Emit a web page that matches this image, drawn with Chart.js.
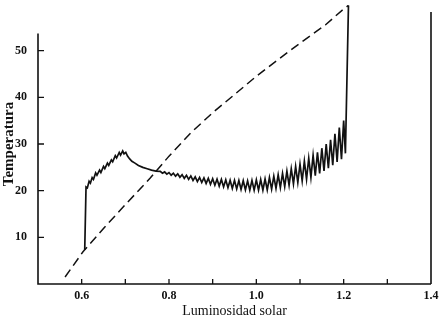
<!DOCTYPE html>
<html>
<head>
<meta charset="utf-8">
<script src="https://cdn.jsdelivr.net/npm/chart.js@4/dist/chart.umd.min.js"></script>
<style>
  html, body { margin: 0; padding: 0; background: #fff; }
  #wrap { width: 444px; height: 323px; }
</style>
</head>
<body>
<div id="wrap"><canvas id="c" width="444" height="323"></canvas></div>
<script>
// Temperature response (solid curve): luminosity and temperature
const tempLum = [
  0.607, 0.610, 0.613, 0.617, 0.620, 0.624, 0.627, 0.632, 0.635, 0.641,
  0.644, 0.650, 0.653, 0.659, 0.662, 0.668, 0.671, 0.677, 0.680, 0.686,
  0.689, 0.694, 0.697, 0.701, 0.705, 0.710, 0.715, 0.722, 0.730, 0.740,
  0.750, 0.760, 0.770,
  0.780, 0.785, 0.790, 0.795, 0.800, 0.805, 0.810, 0.815, 0.820, 0.825,
  0.830, 0.835, 0.840, 0.845, 0.850, 0.855, 0.860, 0.865, 0.870, 0.875,
  0.880, 0.885, 0.890, 0.895, 0.900, 0.905, 0.910, 0.915, 0.920, 0.925,
  0.930, 0.935, 0.940, 0.945, 0.950, 0.955, 0.960, 0.965, 0.970, 0.975,
  0.980, 0.985, 0.990, 0.995, 1.000, 1.005, 1.010, 1.015, 1.020, 1.025,
  1.030, 1.035, 1.040, 1.045, 1.050, 1.055, 1.060, 1.065, 1.070, 1.075,
  1.080, 1.085, 1.090, 1.095, 1.100, 1.105, 1.110, 1.115, 1.120, 1.125,
  1.130, 1.135, 1.140, 1.145, 1.150, 1.155, 1.160, 1.165, 1.170, 1.175,
  1.180, 1.185, 1.190, 1.195, 1.200, 1.204, 1.211
];
const tempVal = [
  7.3, 20.8, 20.6, 22.0, 21.6, 22.8, 22.4, 23.8, 23.3, 24.4,
  23.9, 25.2, 24.7, 25.9, 25.4, 26.6, 26.2, 27.5, 27.0, 28.2,
  27.6, 28.5, 27.9, 28.2, 27.4, 26.8, 26.3, 25.9, 25.4, 25.0,
  24.7, 24.4, 24.2,
  24.15, 23.74, 24.02, 23.53, 23.88, 23.32, 23.74, 23.11, 23.60, 22.88,
  23.44, 22.64, 23.28, 22.41, 23.16, 22.20, 22.95, 21.95, 22.85, 21.75,
  22.75, 21.55, 22.65, 21.35, 22.55, 21.16, 22.48, 20.98, 22.40, 20.81,
  22.33, 20.63, 22.25, 20.49, 22.22, 20.38, 22.18, 20.27, 22.14, 20.16,
  22.10, 20.10, 22.20, 20.10, 22.30, 20.10, 22.40, 20.10, 22.50, 20.17,
  22.81, 20.33, 23.10, 20.47, 23.41, 20.63, 23.70, 20.85, 24.20, 21.15,
  24.70, 21.45, 25.20, 21.75, 25.70, 22.09, 26.33, 22.46, 26.95, 22.84,
  27.58, 23.21, 28.20, 23.69, 29.10, 24.25, 30.00, 24.81, 30.90, 25.45,
  32.20, 26.15, 33.50, 26.75, 35.00, 28.0, 59.7
];

// Dashed curve
const refLum = [0.562, 0.603, 0.650, 0.700, 0.757, 0.800, 0.850, 0.900, 0.950,
                1.000, 1.050, 1.100, 1.158, 1.197, 1.211];
const refVal = [1.5, 6.9, 11.9, 17.0, 22.7, 27.4, 32.4, 36.7, 40.6,
                44.5, 48.1, 51.6, 55.5, 58.7, 59.7];

// Axis ticks and labels
const xLabeled = ['0.6', '0.8', '1.0', '1.2', '1.4'];
const xTickMarks = [0.6, 0.7, 0.8, 0.9, 1.0, 1.1, 1.2, 1.3];
const yLabeled = [10, 20, 30, 40, 50];

const toPoints = (xs, ys) => xs.map((x, i) => ({ x: x, y: ys[i] }));

const INK = '#111';
const serif = "'Liberation Serif', 'DejaVu Serif', serif";

// Frame: left axis, bottom axis, right edge line, inward ticks
const framePlugin = {
  id: 'frame',
  beforeDatasetsDraw(chart) {
    const { ctx, scales: { x, y } } = chart;
    const x0 = x.getPixelForValue(0.5);
    const x1 = x.getPixelForValue(1.4);
    const yb = y.getPixelForValue(0);
    ctx.save();
    ctx.strokeStyle = INK;
    ctx.lineWidth = 1.6;
    ctx.lineCap = 'butt';
    ctx.beginPath();
    ctx.moveTo(x0, y.getPixelForValue(53.7));
    ctx.lineTo(x0, yb);
    ctx.lineTo(x1, yb);
    ctx.moveTo(x1, yb);
    ctx.lineTo(x1, y.getPixelForValue(58.3));
    ctx.stroke();
    ctx.lineWidth = 1.3;
    ctx.beginPath();
    yLabeled.forEach(v => {
      const py = y.getPixelForValue(v);
      ctx.moveTo(x0, py);
      ctx.lineTo(x0 + 6, py);
    });
    xTickMarks.forEach(v => {
      const px = x.getPixelForValue(v);
      ctx.moveTo(px, yb);
      ctx.lineTo(px, yb - 5);
    });
    ctx.stroke();
    ctx.restore();
  }
};

new Chart(document.getElementById('c'), {
  type: 'scatter',
  data: {
    datasets: [
      {
        data: toPoints(tempLum, tempVal),
        showLine: true,
        borderColor: INK,
        borderWidth: 1.7,
        pointRadius: 0,
        tension: 0,
        borderJoinStyle: 'miter'
      },
      {
        data: toPoints(refLum, refVal),
        showLine: true,
        borderColor: INK,
        borderWidth: 1.5,
        borderDash: [9, 5],
        pointRadius: 0,
        tension: 0
      }
    ]
  },
  options: {
    responsive: false,
    animation: false,
    events: [],
    layout: { padding: { left: 0, right: 13, top: 4, bottom: 0 } },
    plugins: { legend: { display: false }, tooltip: { enabled: false } },
    scales: {
      x: {
        type: 'linear',
        min: 0.5,
        max: 1.4,
        border: { display: false },
        grid: { display: false },
        ticks: {
          stepSize: 0.1,
          autoSkip: false,
          maxRotation: 0,
          padding: -3,
          color: INK,
          font: { family: serif, size: 12, weight: 'bold' },
          callback: v => {
            const s = Number(v).toFixed(1);
            return xLabeled.includes(s) ? s : '';
          }
        },
        title: {
          display: true,
          text: 'Luminosidad solar',
          color: INK,
          font: { family: serif, size: 14 },
          padding: { top: 0, bottom: 3 }
        },
        afterFit: s => { s.height = 39; s.paddingLeft = 0; s.paddingRight = 0; }
      },
      y: {
        min: 0,
        max: 60,
        border: { display: false },
        grid: { display: false },
        ticks: {
          stepSize: 10,
          padding: 3,
          color: INK,
          font: { family: serif, size: 12, weight: 'bold' },
          callback: v => (yLabeled.includes(v) ? String(v) : '')
        },
        title: {
          display: true,
          text: 'Temperatura',
          color: INK,
          font: { family: serif, size: 15, weight: 'bold' },
          padding: { top: 0, bottom: 1 }
        },
        afterFit: s => { s.width = 38; s.paddingTop = 0; s.paddingBottom = 0; }
      }
    }
  },
  plugins: [framePlugin]
});
</script>
</body>
</html>
